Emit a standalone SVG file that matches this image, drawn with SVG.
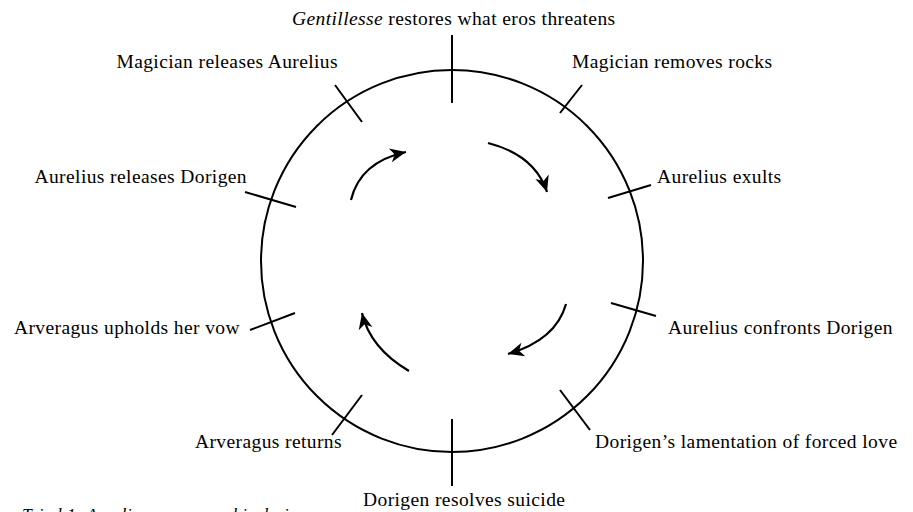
<svg xmlns="http://www.w3.org/2000/svg" width="913" height="512" viewBox="0 0 913 512">
<defs>
<style>
text{font-family:"Liberation Serif","Times New Roman",serif;font-size:19.5px;letter-spacing:0.4px;fill:#000}
.it{font-style:italic}
.cap{font-size:17.5px;font-style:italic}
.ln{stroke:#000;stroke-width:2;fill:none}
.arc{stroke:#000;stroke-width:2.2;fill:none;marker-end:url(#ah)}
</style>
<marker id="ah" markerUnits="userSpaceOnUse" markerWidth="20" markerHeight="16" viewBox="-17 -8 18 16" refX="0" refY="0" orient="auto">
<path d="M0,0 L-16,-7 L-11.5,0 L-16,7 Z" fill="#000"/>
</marker>
</defs>
<rect width="913" height="512" fill="#fff"/>
<g id="cycle">
<circle cx="452" cy="261" r="191" class="ln"/>
</g>
<g id="ticks">
<line x1="452" y1="35" x2="452" y2="103" class="ln"/>
<line x1="452" y1="419" x2="452" y2="486" class="ln"/>
<line x1="582" y1="85" x2="560" y2="113" class="ln"/>
<line x1="651" y1="185" x2="608" y2="198" class="ln"/>
<line x1="656" y1="316" x2="611" y2="303" class="ln"/>
<line x1="590" y1="430" x2="560" y2="390" class="ln"/>
<line x1="332" y1="435" x2="362" y2="395" class="ln"/>
<line x1="250" y1="330" x2="295" y2="313" class="ln"/>
<line x1="245" y1="192" x2="296" y2="207" class="ln"/>
<line x1="335" y1="85" x2="362" y2="122" class="ln"/>
</g>
<g id="connectors">
<path d="M351,200 Q360,162 406,152" class="arc"/>
<path d="M488,143 Q535,155 547,192" class="arc"/>
<path d="M566,304 Q556,340 508,354" class="arc"/>
<path d="M409,371 Q370,348 362,313" class="arc"/>
</g>
<g id="n-top"><text x="292" y="25"><tspan class="it">Gentillesse</tspan> restores what eros threatens</text></g>
<g id="n-magrocks"><text x="572" y="68">Magician removes rocks</text></g>
<g id="n-exults"><text x="657" y="183">Aurelius exults</text></g>
<g id="n-confronts"><text x="668" y="334">Aurelius confronts Dorigen</text></g>
<g id="n-lament"><text x="595" y="448">Dorigen’s lamentation of forced love</text></g>
<g id="n-suicide"><text x="363" y="506">Dorigen resolves suicide</text></g>
<g id="n-returns"><text x="342" y="448" text-anchor="end">Arveragus returns</text></g>
<g id="n-upholds"><text x="240" y="334" text-anchor="end">Arveragus upholds her vow</text></g>
<g id="n-relDorigen"><text x="247" y="183" text-anchor="end">Aurelius releases Dorigen</text></g>
<g id="n-relAurelius"><text x="338" y="68" text-anchor="end">Magician releases Aurelius</text></g>
<g id="caption"><text x="22" y="520" class="cap">Triad 1: Aurelius renounces his desire</text></g>
</svg>
